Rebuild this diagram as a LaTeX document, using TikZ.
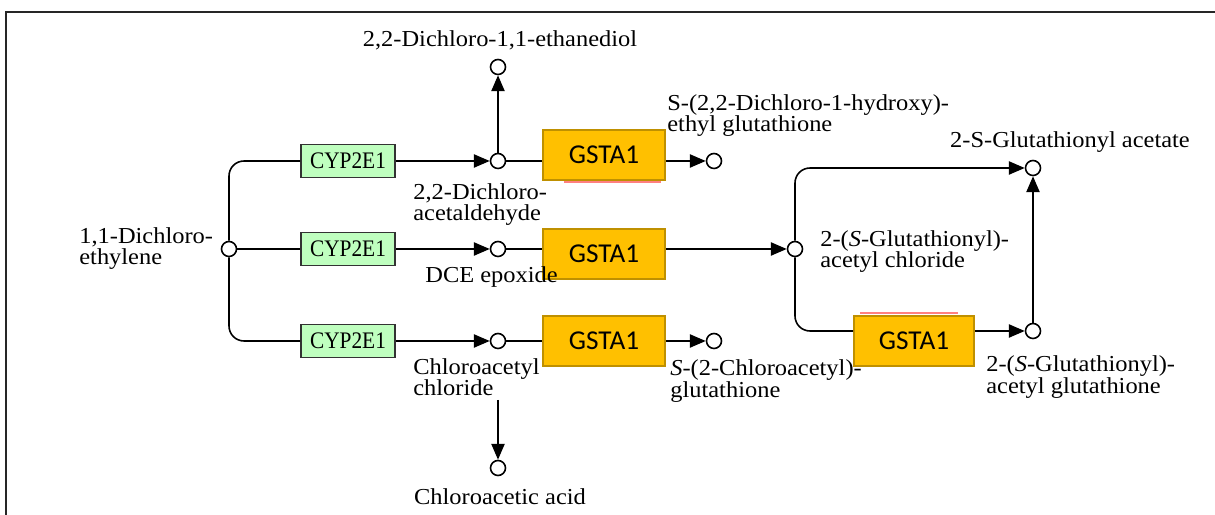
\documentclass[tikz,border=0pt]{standalone}
\usepackage{fontspec}
\setmainfont{Liberation Serif}[FakeStretch=1.07]
\newfontfamily\enzfont{Liberation Serif}[FakeStretch=0.9]
\newfontfamily\gstfont{Carlito}
\usepackage{tikz}
\usetikzlibrary{arrows.meta,positioning,calc}
\definecolor{kegggreen}{HTML}{BFFFBF}
\definecolor{gstfill}{HTML}{FFC000}
\definecolor{gstedge}{HTML}{BF9000}
\definecolor{squiggle}{HTML}{FF8080}
\tikzset{
  rxnarrow/.style={-{Triangle[length=9pt,width=7.5pt]}, line width=0.9pt, draw=black},
  rxnline/.style={line width=0.9pt, draw=black},
  cpd/.style={circle, draw=black, line width=0.9pt, fill=white,
    minimum size=3mm, inner sep=0pt},
  enzyme/.style={draw=black!80, line width=0.9pt, fill=kegggreen,
    minimum width=18.8mm, minimum height=6.6mm, inner sep=0pt,
    font=\enzfont\fontsize{13.5}{13.5}\selectfont},
  gstbox/.style={draw=gstedge, line width=1pt, fill=gstfill,
    minimum width=24.4mm, minimum height=10mm, inner sep=0pt,
    font=\gstfont\fontsize{15.5}{15.5}\selectfont},
  cpdname/.style={align=left, inner sep=0pt, font=\fontsize{13}{12}\selectfont}
}

\begin{document}
\begin{tikzpicture}[x=0.2mm, y=-0.2mm]
    \useasboundingbox (0,0) rectangle (1215,515);
    \draw[line width=1.6pt, black!85] (6,515) -- (6,12) -- (1215,12);

    % substrate and the three CYP2E1 branches
    \node[cpd] (dce) at (229,249) {};
    \node[cpdname, anchor=west] (dcelab) at (79,249) {1,1-Dichloro-\\ethylene};
    \node[enzyme] (cyp1) at (348,161) {CYP2E1};
    \node[enzyme] (cyp2) at (348,249) {CYP2E1};
    \node[enzyme] (cyp3) at (348,341) {CYP2E1};

    \node[cpd] (ald) at (498,161) {};
    \node[cpd] (diol) at (498,67) {};
    \node[cpd] (epox) at (498,249) {};
    \node[cpd] (cac) at (498,341) {};
    \node[cpd] (acid) at (498,468) {};

    % glutathione conjugation
    \node[gstbox] (gst1) at (604,155) {GSTA1};
    \node[gstbox] (gst2) at (604,254) {GSTA1};
    \node[gstbox] (gst3) at (604,341) {GSTA1};
    \node[gstbox, minimum width=24mm] (gst4) at (914,341) {GSTA1};
    \draw[squiggle, line width=0.8pt] ($(gst1.south west)+(22,1)$) -- ($(gst1.south east)+(-5,1)$);
    \draw[squiggle, line width=0.8pt] ($(gst4.north west)+(7,-2)$) -- ($(gst4.north east)+(-17,-2)$);

    \node[cpd] (hyd) at (714,161) {};
    \node[cpd] (gacl) at (795,249) {};
    \node[cpd] (clg) at (714,341) {};
    \node[cpd] (gac) at (1033,168) {};
    \node[cpd] (gag) at (1033,331) {};

    % compound names
    \node[cpdname] (diollab) at (500,40) {2,2-Dichloro-1,1-ethanediol};
    \node[cpdname, anchor=west] (aldlab) at (413,205) {2,2-Dichloro-\\acetaldehyde};
    \node[cpdname, anchor=west] (epoxlab) at (425,277) {DCE epoxide};
    \node[cpdname, anchor=west] (caclab) at (413,377) {Chloroacetyl\\chloride};
    \node[cpdname] (acidlab) at (500,497) {Chloroacetic acid};
    \node[cpdname, anchor=west] (hydlab) at (667,116) {S-(2,2-Dichloro-1-hydroxy)-\\ethyl glutathione};
    \node[cpdname, anchor=west] (gacllab) at (820,252) {2-(\textit{S}-Glutathionyl)-\\acetyl chloride};
    \node[cpdname, anchor=west] (clglab) at (670,381) {\textit{S}-(2-Chloroacetyl)-\\glutathione};
    \node[cpdname] (gaclab) at (1070,142) {2-S-Glutathionyl acetate};
    \node[cpdname, anchor=west] (gaglab) at (986,377) {2-(\textit{S}-Glutathionyl)-\\acetyl glutathione};

    \draw[rxnline, rounded corners=3mm] (cyp1.west) -| (dce);
    \draw[rxnline] (dce) -- (cyp2);
    \draw[rxnline, rounded corners=3mm] (cyp3.west) -| (dce);
    \draw[rxnarrow] (cyp1) -- (ald);
    \draw[rxnarrow] (cyp2) -- (epox);
    \draw[rxnarrow] (cyp3) -- (cac);
    \draw[rxnarrow] (ald) -- (diol);
    \draw[rxnline] (ald) -- (ald -| gst1.west);
    \draw[rxnarrow] (ald -| gst1.east) -- (hyd);
    \draw[rxnline] (epox) -- (epox -| gst2.west);
    \draw[rxnarrow] (epox -| gst2.east) -- (gacl);
    \draw[rxnline] (cac) -- (cac -| gst3.west);
    \draw[rxnarrow] (cac -| gst3.east) -- (clg);
    \coordinate (cactail) at (498,400);
    \draw[rxnarrow] (cactail) -- (acid);
    \draw[rxnarrow, rounded corners=3mm] (gacl) |- (gac);
    \draw[rxnline, rounded corners=3mm] (gacl) |- (gst4.west |- gag);
    \draw[rxnarrow] (gst4.east |- gag) -- (gag);
    \draw[rxnarrow] (gag) -- (gac);
\end{tikzpicture}
\end{document}
